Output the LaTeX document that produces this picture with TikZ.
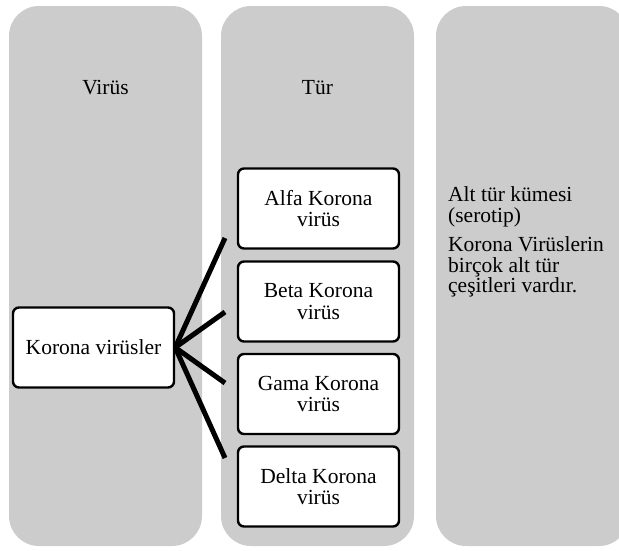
\documentclass[tikz,border=0pt]{standalone}
\usepackage{fontspec}
\setmainfont{Liberation Serif}
\definecolor{colgray}{HTML}{CCCCCC}
\tikzset{
  colbox/.style={fill=colgray, draw=none, rounded corners=30pt, minimum width=193pt, minimum height=540pt, inner sep=0pt},
  header/.style={font=\fontsize{21.5}{21}\selectfont, inner sep=0pt, anchor=base},
  itembox/.style={draw=black, line width=2.4pt, fill=white, rounded corners=6pt, minimum width=161pt, minimum height=80pt, inner sep=0pt, align=center, font=\fontsize{21.5}{21.5}\selectfont},
  conn/.style={line width=5pt, draw=black},
  sidetext/.style={font=\fontsize{21.5}{20.7}\selectfont, inner sep=0pt, align=left, anchor=north west}
}
\begin{document}
\begin{tikzpicture}[x=1pt,y=-1pt]
\useasboundingbox (0,0) rectangle (619,550);
\begin{scope}
\clip (0,0) rectangle (619,550);
\node[colbox] (c1) at (105.5,276) {};
\node[colbox] (c2) at (317.5,276) {};
\node[colbox] (c3) at (532.5,276) {};
\end{scope}
\node[header] (h1) at (105.5,94) {Virüs};
\node[header] (h2) at (317.5,94) {Tür};
\node[sidetext] (t3) at (448,186.8) {Alt tür kümesi\\(serotip)\\[8pt]Korona Virüslerin\\birçok alt tür\\çeşitleri vardır.};
\node[itembox] (kv) at (93.5,347.5) {Korona virüsler};
\node[itembox] (a) at (318.5,208.5) {Alfa Korona\\virüs};
\node[itembox] (b) at (318.5,301.5) {Beta Korona\\virüs};
\node[itembox] (g) at (318.5,394) {Gama Korona\\virüs};
\node[itembox] (d) at (318.5,486.5) {Delta Korona\\virüs};
\coordinate (ea) at (225,238);
\coordinate (eb) at (225,312);
\coordinate (eg) at (225,383);
\coordinate (ed) at (225,458);
\draw[conn] (kv.east) -- (ea);
\draw[conn] (kv.east) -- (eb);
\draw[conn] (kv.east) -- (eg);
\draw[conn] (kv.east) -- (ed);
\end{tikzpicture}
\end{document}
